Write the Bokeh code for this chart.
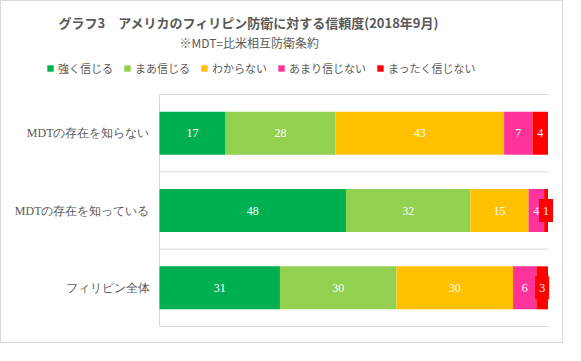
from bokeh.plotting import figure
from bokeh.models import (ColumnDataSource, Range1d, LabelSet, Label, Legend, LegendItem)
from bokeh.embed import file_html
from bokeh.resources import INLINE

categories = ["MDTの存在を知らない", "MDTの存在を知っている", "フィリピン全体"]
series = ["強く信じる", "まあ信じる", "わからない", "あまり信じない", "まったく信じない"]
colors = ["#00B050", "#92D050", "#FFC000", "#FF3399", "#FF0000"]
strong = [17.0, 48, 31]
fairly = [28.3, 32, 30]
unknown = [43.4, 15, 30]
little = [7.3, 4, 6]
none_ = [4.0, 1, 3]
shown = [[17, 48, 31], [28, 32, 30], [43, 15, 30], [7, 4, 6], [4, 1, 3]]
boxed = [[False, False, False], [False] * 3, [False] * 3, [False] * 3, [False, True, True]]
title_text = "グラフ3　アメリカのフィリピン防衛に対する信頼度(2018年9月)"
subtitle_text = "※MDT=比米相互防衛条約"

JP = "Noto Sans CJK JP"
GRAY = "#595959"
GRID = "#D9D9D9"

# layout (pixels of the canvas)
W, H = 563, 343
PX0, PX100 = 158, 546.5          # x of 0 % and 100 %
PY_TOP, PY_BOT = 93, 325          # plot-area top / bottom
n = len(categories)
ux = (PX100 - PX0) / 100
uy = (PY_BOT - PY_TOP) / n

p = figure(width=W, height=H, output_backend="svg", toolbar_location=None,
           x_range=Range1d(-PX0 / ux, 100 + (W - PX100) / ux),
           y_range=Range1d(-(H - PY_BOT) / uy, n + PY_TOP / uy),
           min_border=0, min_border_left=0, min_border_right=0,
           min_border_top=0, min_border_bottom=0)
p.styles = {"border": "1px solid #D9D9D9"}
p.outline_line_color = None
p.axis.visible = False
p.grid.visible = False

ypos = [n - i - 0.5 for i in range(n)]
values = [strong, fairly, unknown, little, none_]
keys = ["s0", "s1", "s2", "s3", "s4"]
data = {"y": ypos}
for k, v in zip(keys, values):
    data[k] = v
src = ColumnDataSource(data)

# gridlines at category boundaries and the category axis line
bounds = list(range(n + 1))
p.segment(x0=[0] * len(bounds), x1=[100] * len(bounds), y0=bounds, y1=bounds,
          line_color=GRID, line_width=1)
p.segment(x0=[0], x1=[0], y0=[0], y1=[n], line_color=GRID, line_width=1)

renderers = p.hbar_stack(keys, y="y", height=0.556, color=colors, source=src, line_color=None)

# data labels
lx, ly, lt, bx, by = [], [], [], [], []
for i in range(n):
    cum = 0.0
    for j in range(len(keys)):
        v = values[j][i]
        c = cum + v / 2
        cum += v
        if boxed[j][i]:
            bx.append(c); by.append(ypos[i])
        lx.append(c); ly.append(ypos[i]); lt.append(str(shown[j][i]))

p.rect(x="x", y="y", width=14, height=23, width_units="screen", height_units="screen",
       source=ColumnDataSource(dict(x=bx, y=by)), fill_color="#FF0000", line_color=None)
p.add_layout(LabelSet(x="x", y="y", text="t", source=ColumnDataSource(dict(x=lx, y=ly, t=lt)),
                      text_align="center", text_baseline="middle", text_color="white",
                      text_font="Liberation Serif", text_font_size="12px"))

# category labels
p.add_layout(LabelSet(x="x", y="y", text="t", x_offset=-10,
                      source=ColumnDataSource(dict(x=[0] * n, y=ypos, t=categories)),
                      text_align="right", text_baseline="middle", text_color=GRAY,
                      text_font=JP, text_font_size="12px"))

# title and subtitle
p.add_layout(Label(x=57, y=H - 21, x_units="screen", y_units="screen", text=title_text,
                   text_align="left", text_baseline="middle", text_font=JP,
                   text_font_size="13px", text_font_style="bold", text_color=GRAY))
p.add_layout(Label(x=178, y=H - 41, x_units="screen", y_units="screen", text=subtitle_text,
                   text_align="left", text_baseline="middle", text_font=JP,
                   text_font_size="12px", text_color=GRAY))

legend = Legend(items=[LegendItem(label=s, renderers=[r]) for s, r in zip(series, renderers)],
                orientation="horizontal", location=(45, H - 75),
                label_text_font=JP, label_text_font_size="11px", label_text_color=GRAY,
                glyph_width=8, glyph_height=8, label_standoff=4, spacing=10,
                label_height=14, padding=0, margin=0,
                border_line_color=None, background_fill_alpha=0)
p.add_layout(legend, "center")

open("out.html", "w").write(file_html(p, INLINE))
